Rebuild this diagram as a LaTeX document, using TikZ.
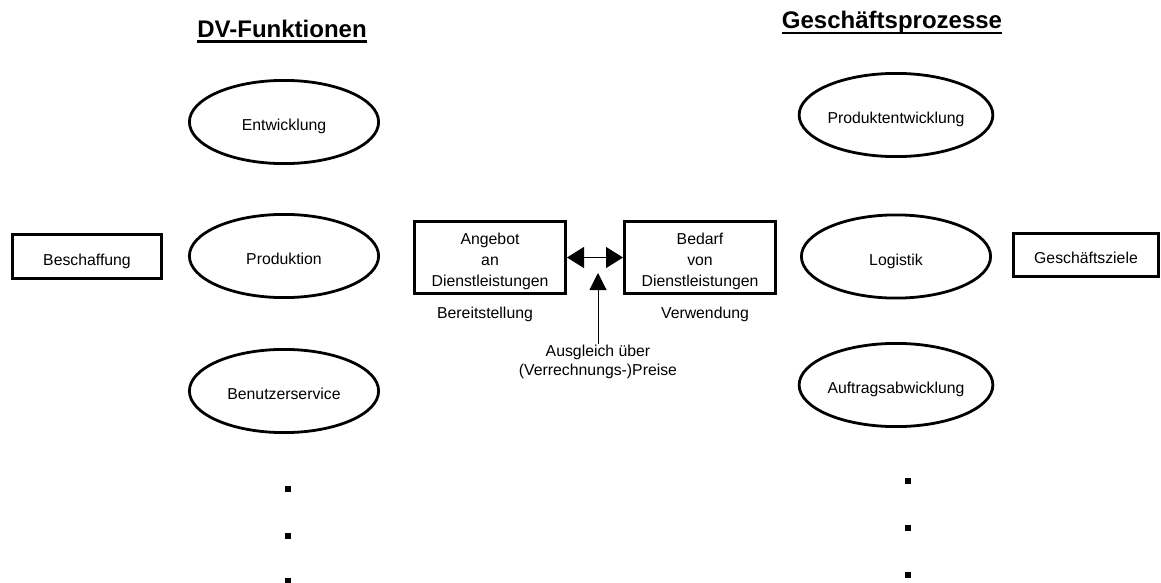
\documentclass[tikz,border=0pt]{standalone}
\usepackage{fontspec}
\setmainfont{Liberation Sans}
\usepackage{tikz}
\usetikzlibrary{shapes.geometric, arrows.meta, positioning}
\tikzstyle{funktion} = [ellipse, minimum width=189.2pt, minimum height=83.2pt, inner sep=0pt, text centered, text height=17.5pt, text depth=0pt, draw=black, line width=2.8pt, font=\fontsize{15.8}{20.5}\selectfont]
\tikzstyle{kasten} = [rectangle, inner sep=0pt, align=center, draw=black, line width=2.8pt, font=\fontsize{15.8}{21}\selectfont]
\tikzstyle{titel} = [inner sep=0pt, anchor=base, font=\fontsize{24}{28}\selectfont\bfseries]
\tikzstyle{beschriftung} = [inner sep=1pt, align=center, font=\fontsize{15.8}{19.5}\selectfont]
\tikzstyle{punkt} = [rectangle, minimum size=6pt, inner sep=0pt, fill=black]
\tikzstyle{doppelpfeil} = [line width=1pt, {Triangle[length=17pt,width=21pt]}-{Triangle[length=17pt,width=21pt]}]
\tikzstyle{hochpfeil} = [line width=1pt, -{Triangle[length=17pt,width=17pt]}]
\newcommand{\obenluft}{\rule{0pt}{19pt}}

\begin{document}
\begin{tikzpicture}[x=1pt, y=-1pt]
    \useasboundingbox (0,0) rectangle (1161,583);

    % Spaltentitel
    \node (dvtitel) [titel] at (282,38) {DV-Funktionen};
    \node (gptitel) [titel] at (892,29) {Geschäftsprozesse};
    \draw [line width=2.4pt] ([yshift=-3.5pt]dvtitel.base west) -- ([yshift=-3.5pt]dvtitel.base east);
    \draw [line width=2.4pt] ([yshift=-3.8pt]gptitel.base west) -- ([yshift=-3.8pt]gptitel.base east);

    % linke Seite
    \node (beschaffung) [kasten, text height=17pt, text depth=0pt, minimum width=149.2pt, minimum height=44.2pt] at (87,256.5) {Beschaffung};
    \node (entwicklung) [funktion] at (284,122) {Entwicklung};
    \node (produktion) [funktion] at (284,256) {Produktion};
    \node (service) [funktion] at (284,391) {Benutzerservice};
    \node (lpunkt1) [punkt] at (288,488.5) {};
    \node (lpunkt2) [punkt] at (288,535.5) {};
    \node (lpunkt3) [punkt] at (288,581) {};

    % rechte Seite
    \node (prodentw) [funktion] at (896,115) {Produktentwicklung};
    \node (logistik) [funktion] at (896,256.5) {Logistik};
    \node (auftrag) [funktion] at (896,385) {Auftragsabwicklung};
    \node (ziele) [kasten, text height=16.5pt, text depth=0pt, minimum width=145.2pt, minimum height=43.2pt] at (1086,255) {Geschäftsziele};
    \node (rpunkt1) [punkt] at (907.5,480.5) {};
    \node (rpunkt2) [punkt] at (907.5,527.5) {};
    \node (rpunkt3) [punkt] at (907.5,574.5) {};

    % Mitte
    \node (angebot) [kasten, minimum width=151.2pt, minimum height=72.2pt] at (490,257.5) {\obenluft Angebot\\an\\Dienstleistungen};
    \node (bedarf) [kasten, minimum width=151.2pt, minimum height=72.2pt] at (700,257.5) {\obenluft Bedarf\\von\\Dienstleistungen};
    \node (bereit) [beschriftung] at (485,314) {Bereitstellung};
    \node (verwendung) [beschriftung] at (705,314) {Verwendung};
    \node (ausgleich) [beschriftung] at (598,362) {Ausgleich über\\(Verrechnungs-)Preise};
    \coordinate (ausgleichziel) at (598,273);

    \draw [doppelpfeil] (angebot.east) -- (bedarf.west);
    \draw [hochpfeil] (ausgleich.north) -- (ausgleichziel);
\end{tikzpicture}
\end{document}
